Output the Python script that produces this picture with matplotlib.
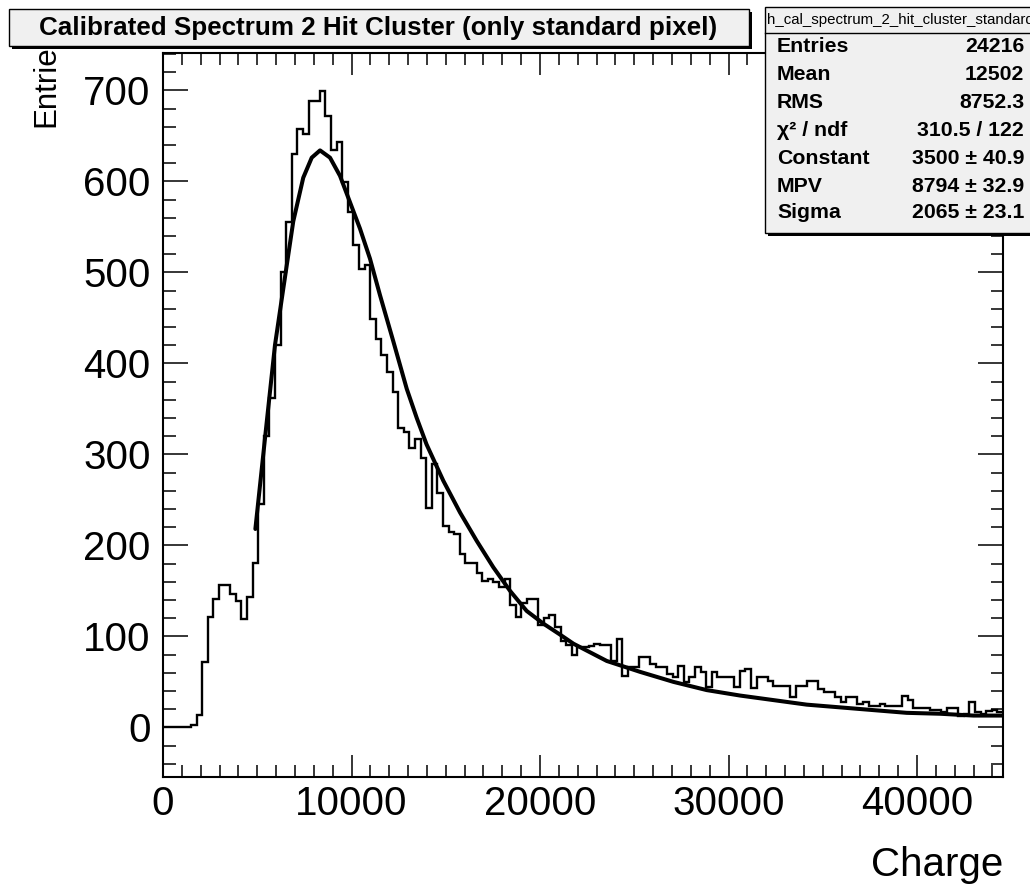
import numpy as np
import matplotlib
matplotlib.use("Agg")
import matplotlib.pyplot as plt
from matplotlib import font_manager
from matplotlib.patches import Rectangle
from matplotlib.lines import Line2D
from matplotlib.ticker import MultipleLocator

# ---------------- data ----------------
x_min, x_max = 0, 44560
n_bins = 150
counts = [
    0, 0, 0, 0, 0, 3, 14, 72, 121, 141,
    157, 156, 147, 139, 119, 143, 181, 245, 320, 362,
    420, 500, 555, 630, 657, 652, 688, 688, 699, 672,
    634, 643, 599, 566, 530, 504, 508, 449, 427, 409,
    390, 369, 329, 325, 307, 317, 296, 241, 289, 258,
    221, 215, 212, 190, 181, 181, 170, 161, 163, 160,
    154, 163, 135, 121, 137, 141, 141, 112, 120, 123,
    110, 95, 90, 79, 88, 88, 89, 92, 90, 90,
    73, 97, 57, 66, 66, 77, 77, 70, 66, 66,
    59, 55, 68, 50, 55, 66, 61, 44, 61, 55,
    55, 55, 44, 62, 64, 43, 55, 55, 51, 46,
    46, 46, 33, 46, 46, 51, 51, 42, 39, 39,
    33, 28, 33, 33, 26, 28, 24, 24, 26, 24,
    24, 24, 35, 30, 21, 21, 21, 19, 19, 17,
    21, 21, 13, 15, 28, 17, 15, 18, 19, 17,
]
fit_x = [4900, 5500, 5940, 6380, 6910, 7440, 7890, 8330, 8860, 9390,
         9920, 10450, 10980, 11510, 12220, 12930, 13460, 13980, 14870, 15760,
         16640, 17520, 18410, 19290, 20180, 21060, 21770, 23540, 25310, 27080,
         28840, 30610, 32380, 34150, 35920, 37680, 39450, 41220, 42990, 44560]
fit_y = [218, 335, 420, 482, 556, 604, 626, 634, 626, 606,
         577, 548, 515, 475, 424, 372, 340, 311, 271, 236,
         205, 176, 150, 128, 114, 102, 92, 73, 61, 50,
         41, 35, 30, 25, 22, 19, 16, 15, 13, 13]

title = "Calibrated Spectrum 2 Hit Cluster (only standard pixel)"
hist_name = "h_cal_spectrum_2_hit_cluster_standard"
stat_labels = ["Entries", "Mean", "RMS", "\u03c7\u00b2 / ndf", "Constant", "MPV", "Sigma"]
stat_values = ["24216", "12502", "8752.3", "310.5 / 122",
               "3500 \u00b1 40.9", "8794 \u00b1 32.9", "2065 \u00b1 23.1"]
x_label = "Charge"
y_label = "Entries"

# ---------------- figure ----------------
plt.rcParams['font.family'] = ['Liberation Sans', 'DejaVu Sans']
installed = {f.name for f in font_manager.fontManager.ttflist}
if 'Liberation Sans Narrow' in installed:
    ylab_family, ylab_size = ['Liberation Sans Narrow', 'Liberation Sans'], 26
else:
    ylab_family, ylab_size = ['Liberation Sans', 'DejaVu Sans'], 22.5

W, H = 1030, 896
fig = plt.figure(figsize=(W / 100, H / 100), dpi=100)
fig.patch.set_facecolor('white')

def fx(px):
    return px / W

def fy(py):
    return 1 - py / H

L, R, T, B = 163, 1003, 53, 777
ax = fig.add_axes([fx(L), fy(B), (R - L) / W, (B - T) / H])

edges = np.linspace(x_min, x_max, n_bins + 1)
ax.stairs(counts, edges, baseline=None, color='black', lw=1.7)
ax.plot(fit_x, fit_y, color='black', lw=2.9, solid_joinstyle='round',
        solid_capstyle='round')

ax.set_xlim(x_min, x_max)
ax.set_ylim(-54.5, 741)

ax.xaxis.set_major_locator(MultipleLocator(10000))
ax.xaxis.set_minor_locator(MultipleLocator(1000))
ax.yaxis.set_major_locator(MultipleLocator(100))
ax.yaxis.set_minor_locator(MultipleLocator(20))

for s in ax.spines.values():
    s.set_linewidth(1.5)
ax.tick_params(which='both', direction='in', top=True, right=True,
               width=1.1, color='black')
ax.tick_params(axis='x', which='major', length=16, pad=6, labelsize=29)
ax.tick_params(axis='x', which='minor', length=8.5)
ax.tick_params(axis='y', which='major', length=18, pad=9, labelsize=29)
ax.tick_params(axis='y', which='minor', length=9)

# axis titles
fig.text(fx(1003), fy(865), x_label, ha='right', va='center', fontsize=29)
fig.text(fx(46), fy(127), y_label, ha='center', va='bottom', rotation=90,
         fontsize=ylab_size, family=ylab_family, zorder=0.5)

# ROOT-style boxes with shadow
def root_box(x0, y0, x1, y1, shadow=3):
    fig.patches.append(Rectangle((fx(x0 + shadow), fy(y1 + shadow)),
                                 (x1 - x0) / W, (y1 - y0) / H,
                                 transform=fig.transFigure, facecolor='black',
                                 edgecolor='black', lw=0, zorder=2))
    fig.patches.append(Rectangle((fx(x0), fy(y1)), (x1 - x0) / W, (y1 - y0) / H,
                                 transform=fig.transFigure, facecolor='#f0f0f0',
                                 edgecolor='black', lw=1.0, zorder=2.1))

root_box(9, 9, 749, 46)
fig.text(fx(378), fy(28), title, ha='center', va='center', fontsize=18.7,
         fontweight='bold', zorder=3)

# stats box
root_box(765, 7, 1060, 233)
fig.add_artist(Line2D([fx(765), fx(1060)], [fy(33), fy(33)],
                      transform=fig.transFigure, color='black', lw=1.0, zorder=3))
fig.text(fx(767), fy(20), hist_name, ha='left', va='center', fontsize=10.8,
         zorder=3)
row_y = [47, 75, 102, 130, 158, 186, 212]
for lab, val, yy in zip(stat_labels, stat_values, row_y):
    fig.text(fx(777), fy(yy), lab, ha='left', va='center', fontsize=15.3,
             fontweight='bold', zorder=3)
    fig.text(fx(1024), fy(yy), val, ha='right', va='center', fontsize=15.3,
             fontweight='bold', zorder=3)

fig.savefig("out.png", dpi=100, facecolor='white')
